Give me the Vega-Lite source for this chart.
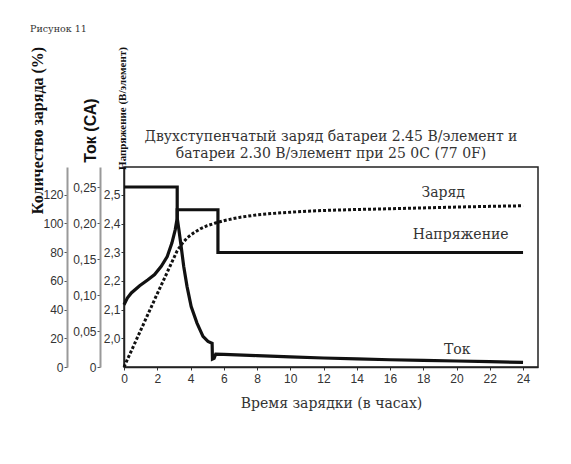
{
  "$schema": "https://vega.github.io/schema/vega-lite/v6.json",
  "width": 414,
  "height": 200,
  "autosize": {"type": "none"},
  "padding": {"left": 124, "top": 167, "right": 33, "bottom": 97},
  "background": "white",
  "config": {"view": {"stroke": "#222", "strokeWidth": 1.5}, "axis": {"grid": false}},
  "encoding": {
    "x": {
      "field": "t", "type": "quantitative",
      "scale": {"domain": [0, 24.9], "nice": false, "zero": false},
      "axis": {
        "title": "Время зарядки (в часах)",
        "values": [0, 2, 4, 6, 8, 10, 12, 14, 16, 18, 20, 22, 24],
        "labelFont": "Liberation Sans", "labelFontSize": 12, "labelColor": "#333",
        "tickSize": 3, "tickColor": "#333", "labelPadding": 3, "labelFlush": false,
        "domainColor": "#222", "domainWidth": 1.5,
        "titleFont": "DejaVu Serif", "titleFontSize": 14, "titleFontWeight": "normal", "titleColor": "#333", "titlePadding": 12
      }
    }
  },
  "layer": [
    {
      "encoding": {
        "y": {
          "field": "v", "type": "quantitative",
          "scale": {"domain": [0, 139.3], "nice": false, "zero": false},
          "axis": {
            "orient": "left", "offset": 57,
            "values": [0, 20, 40, 60, 80, 100, 120],
            "title": "Количество заряда (%)",
            "titleFont": "Liberation Serif", "titleFontSize": 16, "titleFontWeight": "bold", "titleColor": "#111",
            "titleX": -30, "titleY": -37, "titleAngle": -90, "titleBaseline": "middle", "titleAlign": "center",
            "labelFont": "Liberation Sans", "labelFontSize": 12, "labelColor": "#333", "labelPadding": 1,
            "tickSize": 3, "tickColor": "#555", "domainColor": "#999", "domainWidth": 2
          }
        }
      },
      "layer": [
        {
          "data": {"values": [
            {"t": 0, "v": 0}, {"t": 1, "v": 25.5}, {"t": 2, "v": 51}, {"t": 2.8, "v": 71}, {"t": 3.2, "v": 81},
            {"t": 3.5, "v": 86}, {"t": 3.8, "v": 90}, {"t": 4.2, "v": 93.5}, {"t": 4.6, "v": 96.3}, {"t": 5.0, "v": 98.4},
            {"t": 5.5, "v": 100.3}, {"t": 6.0, "v": 101.9}, {"t": 6.5, "v": 103.2}, {"t": 7, "v": 104.3}, {"t": 8, "v": 106},
            {"t": 9, "v": 107}, {"t": 10, "v": 107.8}, {"t": 11, "v": 108.5}, {"t": 12, "v": 109}, {"t": 14, "v": 109.7},
            {"t": 16, "v": 110.2}, {"t": 18, "v": 110.8}, {"t": 20, "v": 111.4}, {"t": 22, "v": 111.9}, {"t": 24, "v": 112.3}
          ]},
          "mark": {"type": "line", "strokeDash": [3, 2], "strokeWidth": 3, "color": "#111", "strokeCap": "butt"}
        },
        {
          "data": {"values": [
            {"t": 12.45, "v": 157.6, "label": "Двухступенчатый заряд батареи 2.45 В/элемент и"},
            {"t": 12.45, "v": 145.4, "label": "батареи 2.30 В/элемент при 25 0C (77 0F)"},
            {"t": 19.2, "v": 118.4, "label": "Заряд"},
            {"t": 20.25, "v": 89.1, "label": "Напряжение"},
            {"t": 20.04, "v": 9.3, "label": "Ток"}
          ]},
          "mark": {"type": "text", "font": "DejaVu Serif", "fontSize": 14, "color": "#333", "align": "center", "baseline": "alphabetic"},
          "encoding": {"text": {"field": "label", "type": "nominal"}}
        },
        {
          "data": {"values": [{"t": -5.65, "v": 235.4, "label": "Рисунок 11"}]},
          "mark": {"type": "text", "font": "DejaVu Serif", "fontSize": 9.5, "color": "#333", "align": "left", "baseline": "middle"},
          "encoding": {"text": {"field": "label", "type": "nominal"}}
        }
      ]
    },
    {
      "data": {"values": [
        {"t": 0, "v": 0.25}, {"t": 3.2, "v": 0.25}, {"t": 3.2, "v": 0.207}, {"t": 3.3, "v": 0.191}, {"t": 3.44, "v": 0.167},
        {"t": 3.59, "v": 0.14}, {"t": 3.79, "v": 0.112}, {"t": 4.04, "v": 0.084}, {"t": 4.39, "v": 0.061}, {"t": 4.75, "v": 0.0425},
        {"t": 5.05, "v": 0.0356}, {"t": 5.3, "v": 0.033}, {"t": 5.32, "v": 0.011}, {"t": 5.42, "v": 0.012}, {"t": 5.52, "v": 0.018},
        {"t": 6, "v": 0.0175}, {"t": 8, "v": 0.0158}, {"t": 10, "v": 0.014}, {"t": 12, "v": 0.0125}, {"t": 14, "v": 0.0112},
        {"t": 16, "v": 0.0101}, {"t": 18, "v": 0.0092}, {"t": 20, "v": 0.0083}, {"t": 22, "v": 0.0074}, {"t": 24, "v": 0.0065}
      ]},
      "mark": {"type": "line", "strokeWidth": 3.2, "color": "#111", "strokeJoin": "miter"},
      "encoding": {
        "y": {
          "field": "v", "type": "quantitative",
          "scale": {"domain": [0, 0.2778], "nice": false, "zero": false},
          "axis": {
            "orient": "left", "offset": 24,
            "values": [0, 0.05, 0.1, 0.15, 0.2, 0.25],
            "labelExpr": "datum.value == 0 ? '0' : replace(format(datum.value, '.2f'), '.', ',')",
            "title": "Ток (СА)",
            "titleFont": "Liberation Sans", "titleFontSize": 16, "titleFontWeight": "bold", "titleColor": "#111",
            "titleX": -10, "titleY": -37, "titleAngle": -90, "titleBaseline": "middle", "titleAlign": "center",
            "labelFont": "Liberation Sans", "labelFontSize": 12, "labelColor": "#333", "labelPadding": 1,
            "tickSize": 3, "tickColor": "#555", "domainColor": "#999", "domainWidth": 2
          }
        }
      }
    },
    {
      "data": {"values": [
        {"t": 0, "v": 2.117}, {"t": 0.2, "v": 2.14}, {"t": 0.44, "v": 2.158}, {"t": 0.94, "v": 2.183}, {"t": 1.44, "v": 2.204},
        {"t": 1.84, "v": 2.222}, {"t": 2.24, "v": 2.251}, {"t": 2.6, "v": 2.285}, {"t": 2.88, "v": 2.332}, {"t": 3.08, "v": 2.378},
        {"t": 3.2, "v": 2.419}, {"t": 3.2, "v": 2.448}, {"t": 5.65, "v": 2.448}, {"t": 5.65, "v": 2.299}, {"t": 24, "v": 2.299}
      ]},
      "mark": {"type": "line", "strokeWidth": 3.2, "color": "#111", "strokeJoin": "miter"},
      "encoding": {
        "y": {
          "field": "v", "type": "quantitative",
          "scale": {"domain": [1.9, 2.597], "nice": false, "zero": false},
          "axis": {
            "orient": "left", "offset": 0,
            "values": [2.0, 2.1, 2.2, 2.3, 2.4, 2.5],
            "labelExpr": "replace(format(datum.value, '.1f'), '.', ',')",
            "title": "Напряжение (В/элемент)",
            "titleFont": "Liberation Serif", "titleFontSize": 11, "titleFontWeight": "bold", "titleColor": "#111",
            "titleX": -2, "titleY": -59, "titleAngle": -90, "titleBaseline": "middle", "titleAlign": "center",
            "labelFont": "Liberation Sans", "labelFontSize": 12, "labelColor": "#333", "labelPadding": 1,
            "tickSize": 3, "tickColor": "#333", "domainColor": "#222", "domainWidth": 1.5
          }
        }
      }
    }
  ],
  "resolve": {"scale": {"y": "independent"}, "axis": {"y": "independent"}}
}
